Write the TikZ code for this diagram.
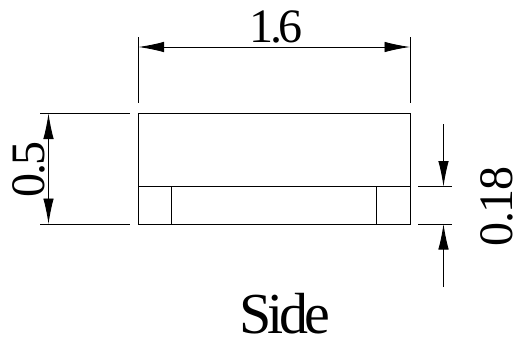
\documentclass[tikz,border=0pt]{standalone}
\usepackage{fontspec}
\setmainfont{Liberation Serif}
\usetikzlibrary{arrows.meta}
\tikzset{
 part/.style={draw=black,line width=0.9pt},
 ext/.style={draw=black,line width=0.9pt},
 dim/.style={draw=black,line width=0.9pt,{Latex[length=25.5pt,width=10.5pt,inset=0pt]}-{Latex[length=25.5pt,width=10.5pt,inset=0pt]}},
 lead/.style={draw=black,line width=0.9pt,-{Latex[length=25.5pt,width=10.5pt,inset=0pt]}},
 dimtxt/.style={font=\fontsize{48}{48}\selectfont,inner sep=0pt},
}
\begin{document}
\begin{tikzpicture}[x=1pt,y=-1pt]
\useasboundingbox (0,0) rectangle (514,340);
% body
\draw[part] (138.5,113.5) rectangle (410,224);
\draw[part] (138.5,186.5) -- (410,186.5);
\draw[part] (171.5,186.5) -- (171.5,224);
\draw[part] (376.5,186.5) -- (376.5,224);
% top dimension
\coordinate (tl) at (138.5,47);
\coordinate (tr) at (410,47);
\draw[ext] (138.5,37) -- (138.5,102.5);
\draw[ext] (410,37) -- (410,102.5);
\draw[dim] (tl) -- (tr);
\node[dimtxt,anchor=base] (w) at (276,42) {\addfontfeatures{LetterSpace=-7.5}1.6};
% left dimension
\coordinate (lt) at (48.5,113.5);
\coordinate (lb) at (48.5,224);
\draw[ext] (40,113.5) -- (130,113.5);
\draw[ext] (40,224) -- (130,224);
\draw[dim] (lt) -- (lb);
\node[dimtxt,anchor=base,rotate=90] (h) at (44,169.5) {\addfontfeatures{LetterSpace=-4}0.5};
% right dimension
\coordinate (ra0) at (443.5,124);
\coordinate (ra1) at (443.5,186.5);
\coordinate (rb0) at (443.5,287);
\coordinate (rb1) at (443.5,224);
\draw[ext] (418,186.5) -- (452,186.5);
\draw[ext] (418,224) -- (452,224);
\draw[lead] (ra0) -- (ra1);
\draw[lead] (rb0) -- (rb1);
\node[dimtxt,anchor=base,rotate=90] (g) at (512,206.5) {\addfontfeatures{LetterSpace=-3}0.18};
% title
\node[inner sep=0pt,anchor=base,font=\fontsize{58}{58}\selectfont] (t) at (284.5,333) {\addfontfeatures{LetterSpace=-7}Side};
\end{tikzpicture}
\end{document}
